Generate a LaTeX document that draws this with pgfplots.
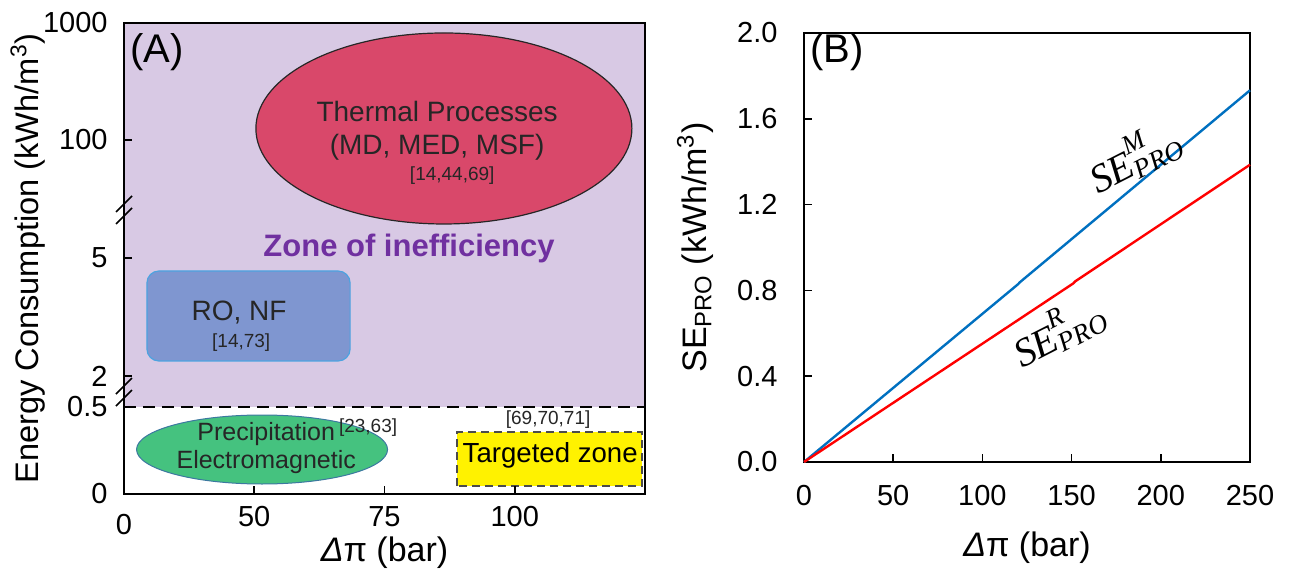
\documentclass[border=0pt]{standalone}
\usepackage{pgfplots}
\pgfplotsset{compat=1.18}
\usepackage{fontspec}
\setmainfont{Liberation Sans}
\newfontfamily\camb{Liberation Serif}
\definecolor{bgpurple}{RGB}{216,201,228}
\definecolor{thermal}{RGB}{217,72,106}
\definecolor{robox}{RGB}{127,150,208}
\definecolor{roedge}{RGB}{77,163,224}
\definecolor{greenell}{RGB}{69,194,127}
\definecolor{greenedge}{RGB}{60,120,160}
\definecolor{zonepurple}{RGB}{112,48,160}
\definecolor{lineblue}{RGB}{0,112,192}
\definecolor{linered}{RGB}{255,0,0}
\newcommand{\tickfont}{\fontsize{14.5}{17}\selectfont}
\newcommand{\labfont}{\fontsize{17}{20}\selectfont}
\newcommand{\sepro}[1]{$\hbox{\camb\itshape\fontsize{20}{22}\selectfont SE}^{\hbox{\camb\itshape\fontsize{13.5}{15}\selectfont #1}}_{\hbox{\camb\itshape\fontsize{13.5}{15}\selectfont PRO}}$}
\begin{document}
\begin{tikzpicture}
\path[use as bounding box] (-62pt,-39.5pt) rectangle (593pt,247pt);
% ---------------- Panel A ----------------
\begin{axis}[
  name=A, at={(0pt,0pt)}, anchor=south west,
  scale only axis, width=260.5pt, height=235.5pt,
  xmin=25, xmax=125, ymin=0, ymax=471,
  axis on top,
  axis line style={line width=1pt, black},
  tick align=inside, tick pos=left, major tick length=4pt,
  tick style={line width=0.8pt, black},
  xtick={50,75,100},
  extra x ticks={25}, extra x tick labels={0},
  extra x tick style={major tick length=0pt, tick label style={yshift=-4pt}},
  ytick={0,87,118,236,354,471}, yticklabels={0\hspace{3.5pt},0.5,2,5,100,1000},
  tick label style={font=\tickfont},
  xticklabel style={yshift=-2.5pt},
  yticklabel style={xshift=-4.7pt},
  /pgf/number format/assume math mode=true,
  xlabel={{\itshape Δ}π (bar)},
  xlabel style={font=\labfont, at={(axis description cs:0.5,-0.125)}, anchor=center},
  ylabel={Energy Consumption (kWh/m\textsuperscript{3})},
  ylabel style={font=\fontsize{16.3}{19}\selectfont, at={(axis description cs:-0.184,0.5)}, anchor=center},
  clip=false,
]
\fill[bgpurple] (axis cs:25,87) rectangle (axis cs:125,471);
\draw[black, line width=1pt, dash pattern=on 6pt off 3.5pt] (axis cs:25,87) -- (axis cs:125,87);
\draw[fill=thermal, draw=black!85, line width=0.6pt] (axis cs:86.4,365.5) ellipse [x radius=94pt, y radius=47.75pt];
\node[font=\fontsize{14}{16}\selectfont, text=black!85] at (axis cs:85.1,382) {Thermal Processes};
\node[font=\fontsize{14}{16}\selectfont, text=black!85] at (axis cs:85.1,347) {(MD, MED, MSF)};
\node[font=\fontsize{9.5}{11}\selectfont, text=black!85] at (axis cs:88,318) {[14,44,69]};
\node[font=\bfseries\fontsize{15.5}{18}\selectfont, text=zonepurple] at (axis cs:79.7,246) {Zone of inefficiency};
\draw[fill=robox, draw=roedge, rounded corners=6pt, line width=0.6pt] (axis cs:29.4,133) rectangle (axis cs:68.4,223);
\node[font=\fontsize{14}{16}\selectfont, text=black!85] at (axis cs:47.1,181) {RO, NF};
\node[font=\fontsize{9.5}{11}\selectfont, text=black!85] at (axis cs:47.5,151) {[14,73]};
\draw[fill=greenell, draw=greenedge, line width=0.5pt] (axis cs:51.5,44.5) ellipse [x radius=62.75pt, y radius=17.25pt];
\node[font=\fontsize{12.5}{14}\selectfont, text=black!85, inner sep=0pt] at (axis cs:52.3,60) {Precipitation};
\node[font=\fontsize{9.5}{11}\selectfont, text=black!85, anchor=west, inner sep=0pt] at (axis cs:66.2,66) {[23,63]};
\node[font=\fontsize{12.5}{14}\selectfont, text=black!85, inner sep=0pt] at (axis cs:52.3,32) {Electromagnetic};
\draw[fill=yellow, draw=black!70, line width=0.8pt, dash pattern=on 4pt off 2.5pt] (axis cs:88.9,8) rectangle (axis cs:124.4,62);
\node[font=\fontsize{13.8}{16}\selectfont, text=black] at (axis cs:106.8,39) {Targeted zone};
\node[font=\fontsize{9.5}{11}\selectfont, text=black!85] at (axis cs:106.4,74) {[69,70,71]};
\node[font=\fontsize{20}{23}\selectfont, anchor=west, inner sep=0pt] at (axis cs:26.2,442) {(A)};
% axis breaks
\draw[black, line width=0.8pt] ([xshift=-4pt,yshift=-1pt]axis cs:25,284) -- ([xshift=4pt,yshift=7pt]axis cs:25,284);
\draw[black, line width=0.8pt] ([xshift=-4pt,yshift=-7pt]axis cs:25,284) -- ([xshift=4pt,yshift=1pt]axis cs:25,284);
\draw[black, line width=0.8pt] ([xshift=-4pt,yshift=-1pt]axis cs:25,102) -- ([xshift=4pt,yshift=7pt]axis cs:25,102);
\draw[black, line width=0.8pt] ([xshift=-4pt,yshift=-7pt]axis cs:25,102) -- ([xshift=4pt,yshift=1pt]axis cs:25,102);
\end{axis}
% ---------------- Panel B ----------------
\begin{axis}[
  name=B, at={(340pt,16pt)}, anchor=south west,
  scale only axis, width=223pt, height=214.5pt,
  xmin=0, xmax=250, ymin=0, ymax=2,
  axis line style={line width=1pt, black},
  tick align=inside, tick pos=left, major tick length=4pt,
  tick style={line width=0.8pt, black},
  xtick={0,50,100,150,200,250},
  ytick={0,0.4,0.8,1.2,1.6,2.0},
  tick label style={font=\tickfont},
  xticklabel style={yshift=-8pt},
  yticklabel style={xshift=-9.7pt, /pgf/number format/.cd, fixed, fixed zerofill, precision=1},
  /pgf/number format/assume math mode=true,
  xlabel={{\itshape Δ}π (bar)},
  xlabel style={font=\labfont, at={(axis description cs:0.5,-0.2)}, anchor=center},
  ylabel={SE\textsubscript{PRO} (kWh/m\textsuperscript{3})},
  ylabel style={font=\labfont, at={(axis description cs:-0.244,0.5)}, anchor=center},
  clip=false,
]
\addplot[lineblue, line width=1.2pt] coordinates {(0,0) (120,0.829) (121,0.838) (250,1.733)};
\addplot[linered, line width=1.2pt] coordinates {(0,0) (151,0.833) (152,0.842) (250,1.386)};
\node[rotate=27, inner sep=0pt] at (axis cs:185,1.42) {\sepro{M}};
\node[rotate=27, inner sep=0pt] at (axis cs:142.4,0.61) {\sepro{R}};
\node[font=\fontsize{20}{23}\selectfont, anchor=west, inner sep=0pt] at (axis cs:3.4,1.91) {(B)};
\end{axis}
\end{tikzpicture}
\end{document}
